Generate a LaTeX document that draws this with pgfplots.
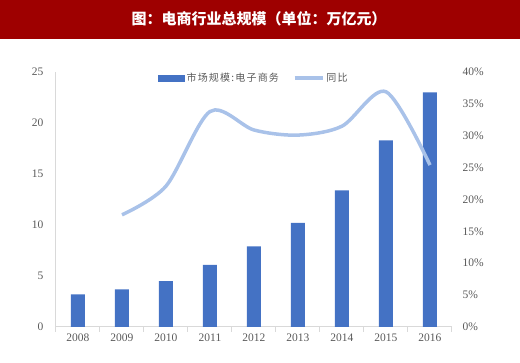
\documentclass[border=0pt]{standalone}
\usepackage{pgfplots}
\pgfplotsset{compat=1.18}
\usepackage{fontspec}
\setmainfont{Liberation Serif}
\newfontfamily\cjk{Noto Sans CJK SC}
\newfontfamily\cjkspaced[LetterSpace=12]{Noto Sans CJK SC}
\definecolor{titlered}{HTML}{9E0000}
\definecolor{barblue}{HTML}{4472C4}
\definecolor{lineblue}{HTML}{A9C2E9}
\definecolor{txtgray}{HTML}{595959}
\definecolor{axgray}{HTML}{D9D9D9}
\begin{document}
\begin{tikzpicture}[x=1pt,y=1pt]
\path[use as bounding box] (0,0) rectangle (520,363);
\fill[titlered] (0,324) rectangle (520,363);
\node[text=white,font=\cjk\bfseries\fontsize{15}{17}\selectfont] at (259,344) {图：电商行业总规模（单位：万亿元）};
\begin{axis}[
  at={(56pt,36pt)}, anchor=south west, scale only axis,
  width=396pt, height=255pt,
  xmin=-0.5, xmax=8.5, ymin=0, ymax=25,
  xtick={0,...,8},
  xticklabels={2008,2009,2010,2011,2012,2013,2014,2015,2016},
  minor xtick={-0.5,0.5,...,8.5},
  ytick={0,5,...,25},
  axis x line*=bottom, axis y line*=left,
  axis line style={axgray, line width=1pt},
  major tick length=0pt,
  minor tick length=5pt,
  tick align=outside,
  minor tick style={axgray, line width=1pt},
  ticklabel style={text=txtgray, font=\fontsize{11.5}{13}\selectfont},
  /pgf/number format/assume math mode=true,
  xticklabel style={yshift=-3pt},
  yticklabel style={xshift=-9pt},
  legend style={at={(0.25,1.012)}, anchor=north west, draw=none, fill=none,
    legend columns=2, font=\cjkspaced\fontsize{10}{12}\selectfont, text=txtgray,
    /tikz/every even column/.append style={column sep=12pt}},
  legend image code/.code={}, 
]
\addlegendimage{legend image code/.code={\fill[barblue] (0pt,-3pt) rectangle (26pt,3pt);}}
\addlegendentry{市场规模:电子商务}
\addlegendimage{legend image code/.code={\draw[lineblue,line width=3.5pt] (0pt,0pt) -- (28pt,0pt);}}
\addlegendentry{同比}
\addplot[ybar, bar width=14pt, fill=barblue, draw=none] coordinates {
(0,3.2) (1,3.7) (2,4.5) (3,6.1) (4,7.9) (5,10.2) (6,13.4) (7,18.3) (8,23.0)};
\end{axis}
\begin{axis}[
  at={(56pt,36pt)}, anchor=south west, scale only axis,
  width=396pt, height=255pt,
  xmin=-0.5, xmax=8.5, ymin=0, ymax=40,
  axis y line*=right, axis x line=none,
  y axis line style={draw=none},
  ytick={0,5,...,40},
  yticklabel={\pgfmathprintnumber{\tick}\%},
  major tick length=0pt,
  ticklabel style={text=txtgray, font=\fontsize{11.5}{13}\selectfont},
  /pgf/number format/assume math mode=true,
  yticklabel style={xshift=7pt},
]
\addplot[lineblue, line width=3.5pt, smooth] coordinates {
(1,17.6) (2,22.1) (3,33.8) (4,30.9) (5,30.1) (6,31.5) (7,36.9) (8,25.4)};
\end{axis}
\end{tikzpicture}
\end{document}
